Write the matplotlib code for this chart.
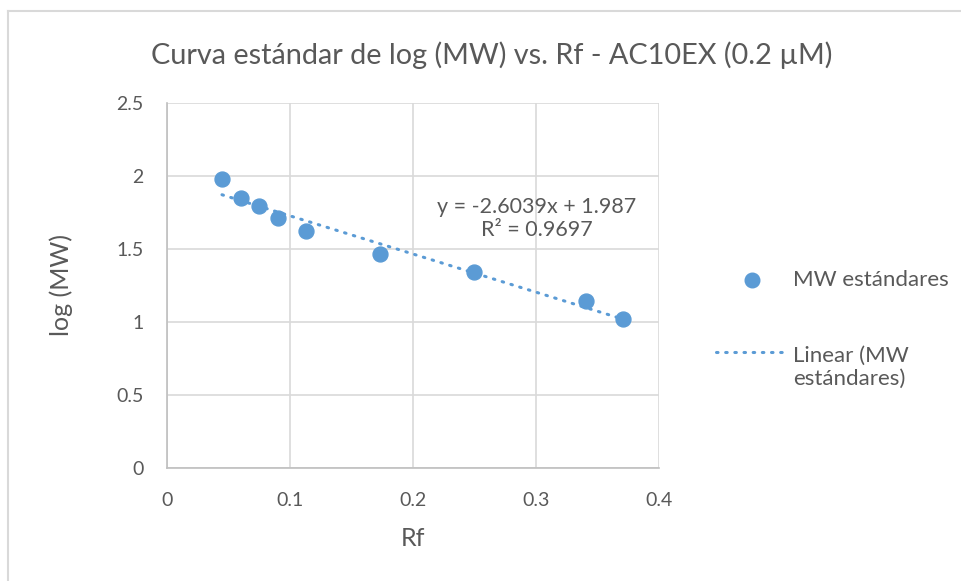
import numpy as np
import matplotlib
matplotlib.use("Agg")
import matplotlib.pyplot as plt
from matplotlib.lines import Line2D

# Rf vs log(MW) of the standards
rf = [0.0447, 0.0602, 0.0748, 0.0902, 0.1130, 0.1732, 0.2496, 0.3407, 0.3707]
log_mw = [1.979, 1.849, 1.795, 1.712, 1.623, 1.466, 1.342, 1.144, 1.021]

title = "Curva estándar de log (MW) vs. Rf - AC10EX (0.2 µM)"
eq_text = "y = -2.6039x + 1.987\nR² = 0.9697"
x_ticks = [0, 0.1, 0.2, 0.3, 0.4]
y_ticks = [0, 0.5, 1, 1.5, 2, 2.5]

blue = "#5B9BD5"
grid_c = "#D9D9D9"
text_c = "#595959"

plt.rcParams['font.family'] = ['Lato', 'DejaVu Sans']

W, H = 961, 581
fig = plt.figure(figsize=(W / 100, H / 100), dpi=100)

# chart frame (only left and top edges visible in the crop)
fig.add_artist(Line2D([7.5 / W, 7.5 / W], [0, 1 - 11 / H], color=grid_c, lw=1.5))
fig.add_artist(Line2D([7.5 / W, 1], [1 - 11 / H, 1 - 11 / H], color=grid_c, lw=1.5))

ax = fig.add_axes([167 / W, 1 - 468 / H, (659 - 167) / W, (468 - 103) / H])

ax.scatter(rf, log_mw, s=115, color=blue, zorder=3)

# linear trendline over the data range
k, b = np.polyfit(rf, log_mw, 1)
xs = np.array([min(rf), max(rf)])
ax.plot(xs, k * xs + b, color=blue, lw=2.2, linestyle=(0, (0.5, 2.5)),
        dash_capstyle='round', zorder=2)

ax.set_xlim(0, 0.4)
ax.set_ylim(0, 2.5)
ax.set_xticks(x_ticks)
ax.set_yticks(y_ticks)
ax.set_xticklabels([f"{t:g}" for t in x_ticks])
ax.set_yticklabels([f"{t:g}" for t in y_ticks])
ax.grid(True, color=grid_c, lw=1.2)
ax.set_axisbelow(True)
for side in ["top", "right"]:
    ax.spines[side].set_visible(False)
for side in ["left", "bottom"]:
    ax.spines[side].set_color("#BFBFBF")
    ax.spines[side].set_linewidth(1.2)
ax.tick_params(length=0, labelsize=14, labelcolor=text_c)
ax.tick_params(axis="x", pad=17)
ax.tick_params(axis="y", pad=17)

ax.text(0.3008, 1.709, eq_text, ha="center", va="center", fontsize=15.5,
        color=text_c, linespacing=1.2)

# axis titles
fig.text(413 / W, 1 - 538 / H, "Rf", ha="center", va="center",
         fontsize=18, color=text_c)
fig.text(61 / W, 1 - 285 / H, "log (MW)", ha="center", va="center",
         rotation=90, fontsize=18, color=text_c)

fig.text(491.5 / W, 1 - 55 / H, title, ha="center", va="center",
         fontsize=20.8, color=text_c)

# legend drawn manually to match layout
fig.add_artist(Line2D([752 / W], [1 - 280 / H], marker="o", markersize=10.5,
                      color=blue, lw=0))
fig.text(793 / W, 1 - 280 / H, "MW estándares", ha="left", va="center",
         fontsize=16, color=text_c)
fig.add_artist(Line2D([716 / W, 783 / W], [1 - 352 / H, 1 - 352 / H], color=blue,
                      lw=2.2, linestyle=(0, (0.5, 2.5)), dash_capstyle='round'))
fig.text(793 / W, 1 - 367 / H, "Linear (MW\nestándares)", ha="left", va="center",
         fontsize=16, color=text_c, linespacing=1.2)

fig.savefig("out.png", dpi=100)
